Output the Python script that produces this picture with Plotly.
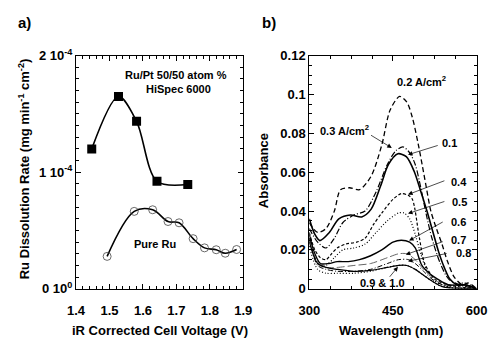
import plotly.graph_objects as go

# ---------- panel a data ----------
rupt_v = [1.447, 1.527, 1.581, 1.642, 1.734]
rupt_rate = [1.20e-4, 1.65e-4, 1.437e-4, 0.922e-4, 0.895e-4]
ru_v = [1.493, 1.574, 1.629, 1.675, 1.708, 1.750, 1.784, 1.819, 1.846, 1.880]
ru_rate = [0.278e-4, 0.664e-4, 0.678e-4, 0.577e-4, 0.566e-4, 0.430e-4, 0.351e-4, 0.335e-4, 0.305e-4, 0.337e-4]
a_yticks = [0, 1e-4, 2e-4]
a_yticktext = ["0 10<sup>0</sup>", "1 10<sup>-4</sup>", "2 10<sup>-4</sup>"]
b_yticks = [0, 0.02, 0.04, 0.06, 0.08, 0.1, 0.12]
b_yticktext = ["0", "0.02", "0.04", "0.06", "0.08", "0.1", "0.12"]

# ---------- panel b data (wavelength nm, absorbance) ----------
wl_02 = [300, 315, 330, 345, 356, 372, 390, 411, 430, 445, 462, 475, 485, 495, 503, 510, 518, 528, 538, 548, 560, 575, 585, 600]
ab_02 = [0.034, 0.029, 0.031, 0.040, 0.051, 0.052, 0.051, 0.058, 0.074, 0.092, 0.099, 0.096, 0.088, 0.075, 0.063, 0.052, 0.040, 0.031, 0.023, 0.014, 0.006, 0.002, 0.003, 0.0]
wl_01 = [300, 310, 319, 336, 353, 374, 394, 411, 428, 442, 459, 474, 488, 499, 511, 522, 532, 542, 552, 565, 580, 600]
ab_01 = [0.036, 0.028, 0.0248, 0.029, 0.036, 0.038, 0.037, 0.041, 0.053, 0.064, 0.0695, 0.068, 0.0605, 0.051, 0.040, 0.029, 0.019, 0.011, 0.005, 0.002, 0.002, 0.0]
wl_03 = [300, 315, 330, 345, 360, 380, 400, 420, 440, 455, 468, 480, 490, 500, 510, 520, 535, 550, 570, 600]
ab_03 = [0.031, 0.024, 0.021, 0.026, 0.034, 0.038, 0.040, 0.050, 0.064, 0.071, 0.073, 0.070, 0.064, 0.052, 0.038, 0.026, 0.013, 0.005, 0.002, 0.0]
wl_04 = [300, 310, 320, 330, 340, 350, 365, 385, 400, 415, 430, 450, 465, 478, 485, 497, 507, 525, 550, 600]
ab_04 = [0.029, 0.020, 0.016, 0.015, 0.018, 0.021, 0.023, 0.024, 0.026, 0.033, 0.039, 0.046, 0.049, 0.048, 0.046, 0.027, 0.013, 0.005, 0.002, 0.0]
wl_05 = [300, 310, 320, 330, 345, 360, 380, 400, 420, 440, 460, 470, 480, 490, 500, 510, 525, 545, 600]
ab_05 = [0.026, 0.016, 0.012, 0.012, 0.016, 0.020, 0.021, 0.023, 0.029, 0.035, 0.039, 0.039, 0.036, 0.028, 0.018, 0.010, 0.004, 0.001, 0.0]
wl_06 = [300, 310, 320, 335, 350, 370, 390, 410, 430, 450, 465, 480, 490, 502, 515, 530, 550, 580, 600]
ab_06 = [0.028, 0.018, 0.013, 0.013, 0.014, 0.014, 0.015, 0.017, 0.020, 0.024, 0.025, 0.024, 0.021, 0.012, 0.008, 0.005, 0.002, 0.002, 0.0]
wl_07 = [300, 315, 330, 350, 380, 410, 440, 460, 475, 490, 505, 520, 540, 600]
ab_07 = [0.025, 0.014, 0.011, 0.011, 0.012, 0.013, 0.016, 0.018, 0.018, 0.015, 0.010, 0.006, 0.002, 0.0]
wl_08 = [300, 315, 330, 350, 380, 410, 440, 460, 478, 490, 505, 520, 540, 580, 600]
ab_08 = [0.026, 0.012, 0.010, 0.009, 0.009, 0.010, 0.013, 0.015, 0.015, 0.013, 0.009, 0.005, 0.002, 0.002, 0.0]
wl_09 = [300, 315, 330, 350, 380, 410, 440, 460, 475, 490, 505, 520, 540, 600]
ab_09 = [0.024, 0.013, 0.011, 0.010, 0.009, 0.0095, 0.011, 0.012, 0.012, 0.010, 0.007, 0.004, 0.001, 0.0]
wl_10 = [300, 315, 330, 350, 380, 410, 440, 460, 475, 490, 505, 520, 540, 580, 600]
ab_10 = [0.022, 0.010, 0.008, 0.008, 0.008, 0.009, 0.011, 0.012, 0.012, 0.010, 0.007, 0.004, 0.001, 0.003, 0.0]

FONT = "Liberation Sans, Arial, sans-serif"

fig = go.Figure()

# panel a
fig.add_trace(go.Scatter(x=rupt_v, y=rupt_rate, mode="lines+markers", xaxis="x", yaxis="y",
                         line=dict(color="black", width=1.6, shape="spline", smoothing=0.9),
                         marker=dict(symbol="square", size=9, color="black")))
fig.add_trace(go.Scatter(x=ru_v, y=ru_rate, mode="lines+markers", xaxis="x", yaxis="y",
                         line=dict(color="black", width=1.6, shape="spline", smoothing=1.0),
                         marker=dict(symbol="circle-open", size=8, color="#444", line=dict(width=0.8))))

# panel b
spectra = [
    (wl_02, ab_02, dict(color="black", width=1.3, dash="5px,3px")),
    (wl_03, ab_03, dict(color="black", width=1.2, dash="6px,2px,1px,2px")),
    (wl_01, ab_01, dict(color="black", width=1.6, dash="solid")),
    (wl_04, ab_04, dict(color="black", width=1.2, dash="3px,2px")),
    (wl_05, ab_05, dict(color="black", width=1.2, dash="1px,2px")),
    (wl_06, ab_06, dict(color="black", width=1.4, dash="solid")),
    (wl_07, ab_07, dict(color="#666", width=1.0, dash="8px,3px")),
    (wl_08, ab_08, dict(color="black", width=1.0, dash="5px,2px,1px,2px")),
    (wl_09, ab_09, dict(color="black", width=1.2, dash="solid")),
    (wl_10, ab_10, dict(color="black", width=1.2, dash="1px,2px")),
]
for wl, ab, ln in spectra:
    ln = dict(ln, shape="spline", smoothing=0.8)
    fig.add_trace(go.Scatter(x=wl, y=ab, mode="lines", xaxis="x2", yaxis="y2", line=ln))

axis_common = dict(showline=True, linecolor="black", linewidth=1, mirror="allticks",
                   ticks="inside", ticklen=5, tickcolor="black", tickwidth=1,
                   showgrid=False, zeroline=False,
                   tickfont=dict(family=FONT, size=13, color="black", weight="bold"))

fig.update_layout(
    width=500, height=352, margin=dict(l=0, r=0, t=0, b=0),
    paper_bgcolor="white", plot_bgcolor="white", showlegend=False,
    font=dict(family=FONT, color="black"),
    xaxis=dict(axis_common, domain=[0.136, 0.486], range=[1.4, 1.9], dtick=0.1, tick0=1.4,
               tickformat=".1f", ticklabelstandoff=10,
               minor=dict(ticks="inside", ticklen=3, dtick=0.02, tickcolor="black")),
    yaxis=dict(axis_common, domain=[0.1648, 0.8608], range=[0, 2e-4],
               tickvals=a_yticks, ticktext=a_yticktext,
               minor=dict(ticks="inside", ticklen=3, dtick=1e-5, tickcolor="black")),
    xaxis2=dict(axis_common, domain=[0.624, 0.974], range=[300, 600], dtick=150, tick0=300,
                ticklabelstandoff=10, anchor="y2",
                minor=dict(ticks="inside", ticklen=3, dtick=37.5, tickcolor="black")),
    yaxis2=dict(axis_common, domain=[0.1648, 0.8608], range=[0, 0.12], anchor="x2",
                tickvals=b_yticks, ticktext=b_yticktext,
                minor=dict(ticks="inside", ticklen=3, dtick=0.005, tickcolor="black")),
)

bold_a = dict(family=FONT, size=11, color="black", weight="bold")
ann = []
titles = [
    dict(text="iR Corrected Cell Voltage (V)", x=0.311, y=1 - 338 / 352, textangle=0),
    dict(text="Wavelength (nm)", x=0.796, y=1 - 338 / 352, textangle=0),
    dict(text="Ru Dissolution Rate (mg min<sup>-1</sup> cm<sup>-2</sup>)", x=0.026, y=1 - 168 / 352, textangle=-90),
    dict(text="Absorbance", x=0.528, y=1 - 170 / 352, textangle=-90),
    dict(text="a)", x=0.028, y=1 - 14 / 352, textangle=0, size=15),
    dict(text="b)", x=0.54, y=1 - 14 / 352, textangle=0, size=15),
]
for t in titles:
    sz = t.pop("size", 13)
    ann.append(dict(t, xref="paper", yref="paper", showarrow=False, xanchor="center", yanchor="middle",
                    font=dict(family=FONT, size=sz, color="black", weight="bold")))

# panel a text
for txt, x, y in [("Ru/Pt 50/50 atom %", 1.70, 1.837e-4), ("HiSpec 6000", 1.706, 1.714e-4), ("Pure Ru", 1.637, 0.384e-4)]:
    ann.append(dict(text=txt, x=x, y=y, xref="x", yref="y", showarrow=False, font=bold_a))

# panel b labels
b_labels = [
    ("0.2 A/cm<sup>2</sup>", 502, 0.1068),
    ("0.3 A/cm<sup>2</sup>", 363, 0.0818),
    ("0.1", 552, 0.075),
    ("0.4", 569, 0.0549),
    ("0.5", 569, 0.0446),
    ("0.6", 568, 0.0343),
    ("0.7", 568, 0.0250),
    ("0.8", 576, 0.0186),
    ("0.9 & 1.0", 432, 0.0029),
]
for txt, x, y in b_labels:
    ann.append(dict(text=txt, x=x, y=y, xref="x2", yref="y2", showarrow=False,
                    font=dict(family=FONT, size=11, color="black", weight="bold")))

# arrows: (tip wl, tip A, tail wl, tail A)
b_arrows = [
    (448, 0.0725, 408, 0.0795),
    (477, 0.069, 533, 0.074),
    (477, 0.0485, 545, 0.0559),
    (477, 0.0387, 545, 0.0452),
    (479, 0.0248, 542, 0.0348),
    (473, 0.0176, 542, 0.0245),
    (477, 0.0142, 549, 0.0183),
    (459, 0.0113, 442, 0.0054),
]
for tx, ty, sx, sy in b_arrows:
    ann.append(dict(text="", x=tx, y=ty, ax=sx, ay=sy, xref="x2", yref="y2", axref="x2", ayref="y2",
                    showarrow=True, arrowhead=2, arrowsize=1.3, arrowwidth=0.7, arrowcolor="black"))

fig.update_layout(annotations=ann)
fig.write_html("out.html")
